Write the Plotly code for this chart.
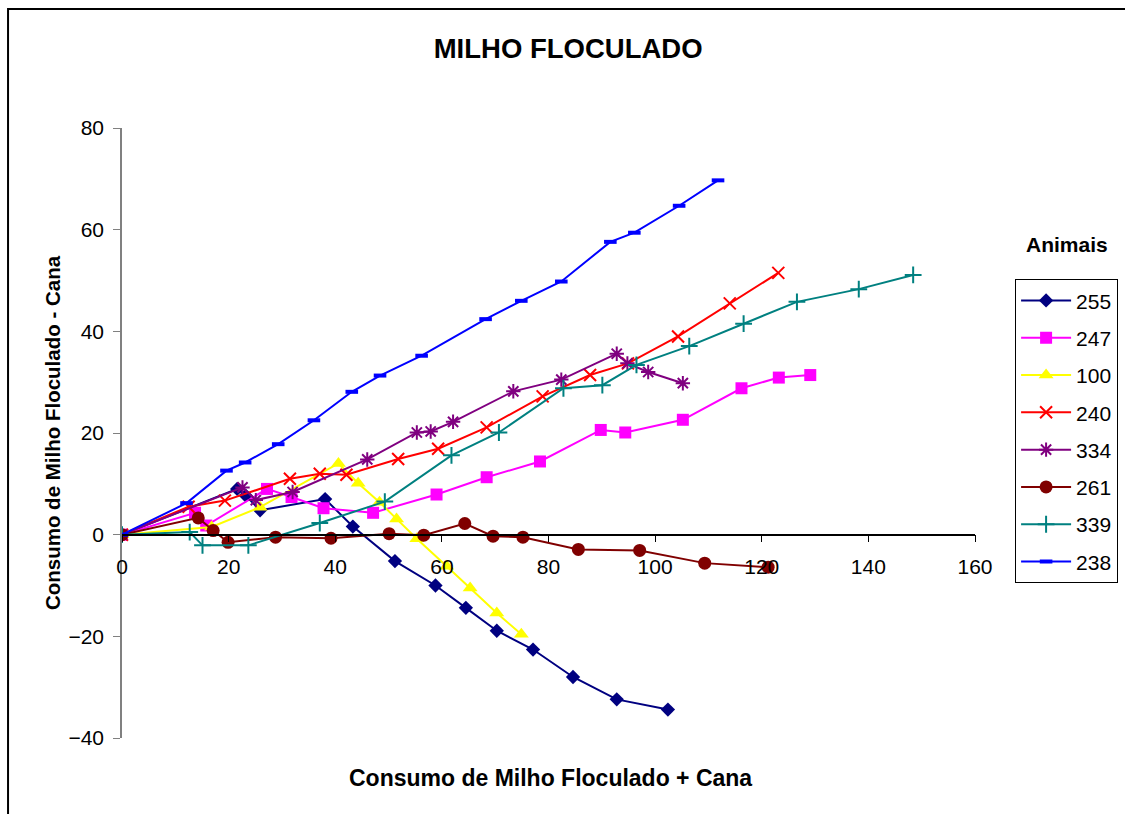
import plotly.graph_objects as go

# Animal IDs in legend order
animais = ["255", "247", "100", "240", "334", "261", "339", "238"]

# Consumo de Milho Floculado + Cana (x) and Milho Floculado - Cana (y), per animal
x_255 = [0, 21.6, 23.2, 25.9, 38.1, 43.3, 51.2, 58.8, 64.5, 70.3, 77.1, 84.6, 92.8, 102.4]
y_255 = [0, 9.0, 7.7, 4.8, 7.0, 1.6, -5.2, -10.0, -14.4, -18.9, -22.6, -28.0, -32.4, -34.4]

x_247 = [0, 13.7, 15.8, 27.2, 31.8, 37.8, 47.1, 59.0, 68.4, 78.4, 89.8, 94.4, 105.2, 116.2, 123.2, 129.1]
y_247 = [0, 4.3, 1.8, 9.0, 7.4, 5.2, 4.3, 7.9, 11.3, 14.4, 20.6, 20.1, 22.6, 28.8, 30.9, 31.4]

x_100 = [0, 16.8, 25.9, 40.6, 44.3, 48.3, 51.5, 55.3, 60.9, 65.3, 70.3, 74.9]
y_100 = [0, 1.5, 5.4, 14.0, 10.1, 6.4, 3.1, -0.8, -6.2, -10.5, -15.4, -19.6]

x_240 = [0, 12.5, 19.3, 31.5, 37.1, 42.1, 51.8, 59.3, 68.4, 78.9, 87.8, 94.9, 104.3, 114.0, 123.1]
y_240 = [0, 5.5, 6.7, 11.0, 12.0, 11.8, 14.9, 16.9, 21.1, 27.2, 31.4, 33.7, 39.0, 45.5, 51.5]

x_334 = [0, 22.6, 25.1, 32.0, 46.0, 55.3, 57.9, 62.1, 73.4, 82.4, 92.8, 94.8, 98.7, 105.2]
y_334 = [0, 9.3, 6.8, 8.4, 14.8, 20.1, 20.3, 22.2, 28.2, 30.5, 35.6, 33.7, 32.0, 29.8]

x_261 = [0, 14.3, 17.1, 19.9, 28.8, 39.2, 50.1, 56.6, 64.3, 69.6, 75.2, 85.6, 97.1, 109.3, 121.2]
y_261 = [0, 3.3, 0.8, -1.5, -0.5, -0.7, 0.2, -0.1, 2.2, -0.3, -0.5, -2.9, -3.1, -5.6, -6.4]

x_339 = [0, 12.7, 15.1, 23.7, 37.1, 49.3, 61.8, 70.7, 82.8, 90.1, 96.5, 106.4, 116.6, 126.6, 138.2, 148.4]
y_339 = [0, 0.5, -2.1, -2.1, 2.3, 6.5, 15.6, 20.1, 28.8, 29.4, 33.4, 37.1, 41.5, 45.8, 48.3, 51.1]

x_238 = [0, 12.1, 19.6, 23.1, 29.3, 36.0, 43.1, 48.4, 56.2, 68.2, 74.9, 82.4, 91.6, 96.1, 104.5, 111.8]
y_238 = [0, 6.2, 12.6, 14.2, 17.8, 22.5, 28.1, 31.3, 35.2, 42.4, 46.0, 49.8, 57.6, 59.4, 64.7, 69.7]

xs = [x_255, x_247, x_100, x_240, x_334, x_261, x_339, x_238]
ys = [y_255, y_247, y_100, y_240, y_334, y_261, y_339, y_238]

cores = ["#000080", "#FF00FF", "#FFFF00", "#FF0000", "#800080", "#800000", "#008080", "#0000FF"]
simbolos = ["diamond", "square", "triangle-up", "x-thin", "asterisk", "circle", "cross-thin", "line-ew"]
tamanhos = [11, 12, 13, 12, 12, 13, 12, 9]

FONTE = "Liberation Sans, Arial"

fig = go.Figure()
for nome, x, y, cor, simb, tam in zip(animais, xs, ys, cores, simbolos, tamanhos):
    open_marker = simb in ("x-thin", "asterisk", "cross-thin", "line-ew")
    fig.add_trace(go.Scatter(
        x=x, y=y, name=nome, mode="lines+markers",
        legendgroup=nome,
        line=dict(color=cor, width=2),
        marker=dict(symbol=simb, size=tam, color=cor,
                    line=dict(color=cor, width=4 if simb == "line-ew" else (2 if open_marker else 0))),
    ))

# Outer chart frame
fig.add_shape(type="rect", xref="paper", yref="paper",
              x0=-0.1336, x1=1.5, y0=-0.5, y1=1.195,
              line=dict(color="black", width=2), layer="below")

# Legend heading above the legend box
fig.add_annotation(text="<b>Animais</b>", xref="paper", yref="paper",
                   x=1.108, y=0.809, xanchor="center", yanchor="middle", showarrow=False,
                   font=dict(family=FONTE, size=21, color="black"))

# X-axis title at the bottom of the chart area
fig.add_annotation(text="<b>Consumo de Milho Floculado + Cana</b>", xref="paper", yref="paper",
                   x=0.502, y=-0.066, xanchor="center", yanchor="middle", showarrow=False,
                   font=dict(family=FONTE, size=23, color="black"))

fig.update_layout(
    width=1125, height=814,
    margin=dict(l=122, r=150, t=128, b=76, autoexpand=False),
    paper_bgcolor="white", plot_bgcolor="white",
    font=dict(family=FONTE, size=21, color="black"),
    title=dict(text="<b>MILHO FLOCULADO</b>", x=0.505, xanchor="center",
               y=0.94, yanchor="middle", font=dict(size=27.5)),
    xaxis=dict(range=[0, 160], tickmode="array", tickvals=list(range(0, 161, 20)),
               showgrid=False, zeroline=False, showline=True, linecolor="black", linewidth=1.5,
               ticks="outside", ticklen=7, tickcolor="black", ticklabelstandoff=6,
               anchor="free", position=1 / 3),
    yaxis=dict(range=[-40, 80], tickmode="array", tickvals=list(range(-40, 81, 20)),
               showgrid=False, zeroline=False, showline=True, linecolor="#808080", linewidth=1.5,
               ticks="outside", ticklen=7, tickcolor="#808080", ticklabelstandoff=5,
               title=dict(text="<b>Consumo de Milho Floculado - Cana</b>", font=dict(size=20.5),
                          standoff=2)),
    legend=dict(x=1.047, y=0.752, xanchor="left", yanchor="top",
                bordercolor="black", borderwidth=1, bgcolor="white",
                font=dict(size=21), tracegroupgap=7, itemwidth=50),
    showlegend=True,
)

fig.write_html("out.html")
